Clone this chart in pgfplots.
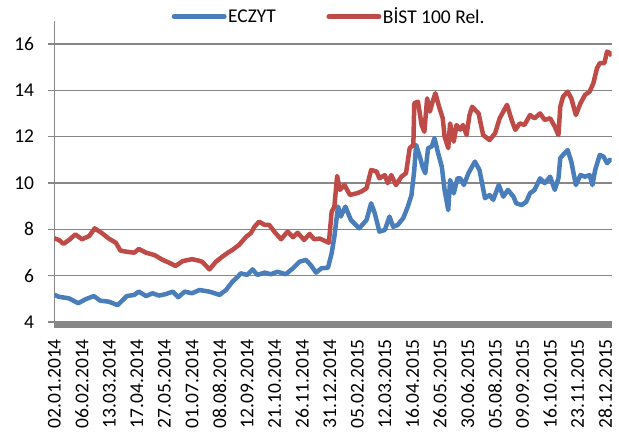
\documentclass[border=0pt]{standalone}
\usepackage{fontspec}
\setmainfont{Carlito}
\usepackage{pgfplots}
\pgfplotsset{compat=1.18}
\usepackage{pgfplotstable}
\definecolor{ecz}{HTML}{4A7EBB}
\definecolor{bist}{HTML}{BE4B48}
\definecolor{gridc}{HTML}{878787}

\pgfplotstableread{
d v
0 5.17
5 5.09
16 5.02
26 4.81
34 4.98
43 5.12
50 4.92
59 4.88
69 4.73
79 5.12
87 5.17
92 5.31
100 5.12
107 5.24
114 5.14
121 5.20
129 5.31
135 5.07
142 5.31
150 5.24
158 5.38
169 5.31
180 5.17
187 5.38
194 5.74
200 5.96
203 6.10
210 6.03
216 6.27
221 6.03
229 6.13
236 6.06
243 6.17
252 6.06
260 6.32
267 6.60
274 6.68
280 6.42
285 6.13
291 6.32
298 6.34
302 6.96
305 7.68
309 8.98
312 8.55
317 8.98
323 8.40
332 8.04
340 8.40
345 9.12
349 8.69
354 7.90
360 7.97
365 8.55
369 8.11
374 8.19
380 8.48
385 8.98
389 9.48
392 10.56
394 11.64
398 11.14
401 10.70
404 10.42
407 11.50
411 11.57
414 11.93
418 11.28
422 10.70
425 9.70
429 8.83
431 10.13
435 9.55
439 10.20
442 10.20
446 9.91
451 10.42
458 10.92
463 10.56
469 9.34
474 9.48
478 9.27
484 9.91
489 9.41
494 9.70
500 9.41
503 9.12
509 9.05
514 9.19
518 9.55
523 9.70
529 10.20
534 9.99
540 10.27
545 9.70
549 10.20
551 11.07
554 11.21
559 11.42
563 10.92
568 9.91
573 10.34
578 10.27
583 10.34
586 9.91
589 10.56
594 11.21
598 11.14
602 10.85
605 11.00
607 10.92
}\ecztab

\pgfplotstableread{
d v
0 7.61
5 7.54
10 7.37
16 7.54
23 7.78
30 7.57
38 7.71
44 8.04
52 7.83
59 7.61
67 7.42
72 7.08
79 7.03
87 6.99
92 7.15
100 6.99
109 6.89
118 6.68
125 6.56
132 6.42
140 6.63
150 6.71
157 6.65
161 6.60
169 6.27
176 6.60
183 6.82
189 6.99
194 7.11
201 7.32
209 7.68
214 7.83
218 8.11
223 8.33
229 8.19
234 8.19
241 7.83
247 7.57
254 7.90
260 7.66
265 7.85
272 7.54
278 7.80
283 7.57
289 7.60
294 7.51
299 7.42
302 8.75
305 8.98
308 10.30
311 9.70
316 9.91
322 9.48
329 9.55
334 9.62
340 9.77
345 10.56
351 10.49
354 10.20
360 10.34
363 9.99
367 10.34
372 9.91
378 10.27
383 10.42
387 11.50
391 11.64
392 13.44
396 13.51
400 12.50
403 12.21
406 13.65
409 13.08
412 13.51
415 13.87
419 13.29
423 12.79
425 12.00
429 11.50
431 12.57
435 11.78
438 12.50
442 12.30
445 12.50
449 12.07
452 12.90
455 13.29
462 13.00
467 12.07
474 11.85
480 12.14
485 12.79
493 13.37
498 12.72
502 12.29
507 12.57
512 12.50
518 12.93
523 12.79
529 13.00
534 12.72
540 12.79
545 12.43
549 12.07
551 13.29
554 13.72
559 13.94
563 13.65
568 12.93
573 13.44
578 13.80
583 13.94
587 14.30
591 14.95
594 15.17
599 15.17
602 15.67
605 15.60
607 15.48
}\bisttab

\begin{document}
\begin{tikzpicture}
\path[use as bounding box] (-54.3pt,-125pt) rectangle (564.7pt,322pt);
\begin{axis}[
  scale only axis, width=557.4pt, height=301.3pt,
  xmin=0, xmax=607, ymin=4, ymax=17,
  ytick={4,6,...,16},
  xtick={0,30,...,600},
  xticklabels={02.01.2014,06.02.2014,13.03.2014,17.04.2014,27.05.2014,01.07.2014,08.08.2014,12.09.2014,21.10.2014,26.11.2014,31.12.2014,05.02.2015,12.03.2015,16.04.2015,26.05.2015,30.06.2015,05.08.2015,09.09.2015,16.10.2015,23.11.2015,28.12.2015},
  axis x line*=bottom, axis y line*=left,
  x axis line style={-, gridc, line width=7.5pt, yshift=-2.5pt},
  y axis line style={-, gridc, line width=1.3pt},
  tick align=outside, major tick length=6pt,
  xtick style={draw=none},
  ytick style={gridc, line width=1.3pt},
  ymajorgrids, major grid style={gridc, line width=1.3pt},
  tick label style={font=\fontsize{19.5}{22}\selectfont, text=black},
  /pgf/number format/assume math mode=true,
  yticklabel style={inner sep=0pt, xshift=-14pt},
  xticklabel style={yshift=-11pt, rotate=90, anchor=east, inner sep=0pt},
  legend columns=2,
  legend style={draw=none, fill=none, at={(0.2106,1.0133)}, anchor=west,
    inner sep=0pt, outer sep=0pt, font=\fontsize{19.5}{22}\selectfont,
    nodes={inner sep=1.5pt},
    /tikz/every even column/.append style={column sep=49pt}},
  legend cell align=left,
  legend image code/.code={\draw[#1, line width=5pt, line cap=round] (0pt,0pt) -- (50pt,0pt);},
]
\addplot[ecz, line width=4.5pt, line join=round] table[x=d, y=v]{\ecztab};
\addlegendentry{ECZYT}
\addplot[bist, line width=4.5pt, line join=round] table[x=d, y=v]{\bisttab};
\addlegendentry{BİST 100 Rel.}
\end{axis}
\end{tikzpicture}
\end{document}
